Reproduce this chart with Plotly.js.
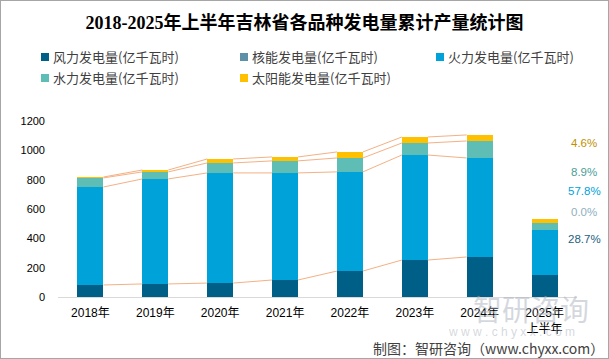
<!DOCTYPE html>
<html>
<head>
<meta charset="utf-8">
<script src="https://cdn.plot.ly/plotly-3.0.1.min.js"></script>
<style>
html,body{margin:0;padding:0;background:#fff;}
#chart{width:607px;height:357px;border:1px solid #A6A6A6;}
</style>
</head>
<body>
<div id="chart"></div>
<script>
// ---- data ----
const categories = ["2018年","2019年","2020年","2021年","2022年","2023年","2024年","2025年<br>上半年"];
const wind    = [82, 89, 95, 116, 177, 252, 273, 153];
const nuclear = [0, 0, 0, 0, 0, 0, 0, 0];
const thermal = [668, 716, 751, 730, 676, 716, 675, 307];
const hydro   = [62, 48, 68, 82, 95, 82, 116, 47];
const solar   = [6, 13, 27, 27, 41, 41, 41, 24.5];
const seriesNames = ["风力发电量(亿千瓦时)","核能发电量(亿千瓦时)","火力发电量(亿千瓦时)","水力发电量(亿千瓦时)","太阳能发电量(亿千瓦时)"];
const shareLabels = ["4.6%","8.9%","57.8%","0.0%","28.7%"];

const colors = ["#005F86","#5E91A8","#00A2DA","#5EBDB5","#FFC000"];
const shareColors = ["#BF9000","#4C9E98","#00A2DA","#8FAFC0","#1B5F80"];
const lineColor = "#F4B183";

const xIdx = categories.map((c,i)=>i);
const series = [wind, nuclear, thermal, hydro, solar];
const barW = 0.4;

const traces = series.map((s,k)=>({
  type:'bar', x:xIdx, y:s, name:seriesNames[k], width:barW,
  marker:{color:colors[k], line:{width:0}}, hoverinfo:'y+name', showlegend:false
}));

// connector lines between adjacent bars (2018-2024), at each cumulative level
let cum = xIdx.map(()=>0);
series.forEach((s,k)=>{
  cum = cum.map((v,i)=>v+s[i]);
  if (k===1) return; // nuclear level coincides with wind
  const lx=[], ly=[];
  for (let i=0;i<6;i++){
    lx.push(i+barW/2, i+1-barW/2, null);
    ly.push(cum[i], cum[i+1], null);
  }
  traces.push({type:'scatter', mode:'lines', x:lx, y:ly, line:{color:lineColor,width:1},
    hoverinfo:'skip', showlegend:false, connectgaps:false});
});

// pixel helpers (page coordinates -> paper)
const ML=57, MR=31, MT=120, MB=61, W=607, H=357;
const PW=W-ML-MR, PH=H-MT-MB;
const px = x => (x-1-ML)/PW;
const py = y => 1-(y-1-MT)/PH;

const shapes=[], annotations=[];
const legPos = [[41,57],[240,57],[436,57],[41,78],[240,78]];
seriesNames.forEach((n,k)=>{
  const [x,y]=legPos[k];
  shapes.push({type:'rect', xref:'paper', yref:'paper', x0:px(x), x1:px(x+8), y0:py(y+4), y1:py(y-4),
    fillcolor:colors[k], line:{width:0}});
  annotations.push({xref:'paper', yref:'paper', x:px(x+10), y:py(y), xanchor:'left', yanchor:'middle',
    text:n, showarrow:false, font:{size:13, color:'#404040', family:'"Noto Sans CJK SC", sans-serif'}});
});
const shareY=[143,172,191,212,239];
shareLabels.forEach((t,k)=>{
  annotations.push({xref:'paper', yref:'paper', x:px(584), y:py(shareY[k]), xanchor:'center', yanchor:'middle',
    text:t, showarrow:false, font:{size:11.5, color:shareColors[k], family:'"Liberation Sans", Arial, sans-serif'}});
});
// watermark
annotations.push({xref:'paper', yref:'paper', x:px(531), y:py(308), xanchor:'center', yanchor:'middle',
  text:'智研咨询', showarrow:false, font:{size:29, color:'rgba(170,178,190,0.5)', family:'"Noto Sans CJK SC", sans-serif'}});
annotations.push({xref:'paper', yref:'paper', x:px(511), y:py(332), xanchor:'center', yanchor:'middle',
  text:'w w w . c h y x x . c o m', showarrow:false, font:{size:12, color:'rgba(170,178,190,0.5)', family:'"Liberation Sans", sans-serif'}});
// footer
annotations.push({xref:'paper', yref:'paper', x:px(606), y:py(348), xanchor:'right', yanchor:'middle',
  text:'制图：智研咨询（www.chyxx.com）', showarrow:false, font:{size:14, color:'#404040', family:'"Noto Sans CJK SC", sans-serif'}});

const layout = {
  width:W, height:H, barmode:'stack', bargap:0,
  margin:{l:ML, r:MR, t:MT, b:MB, pad:0},
  paper_bgcolor:'#fff', plot_bgcolor:'#fff', showlegend:false,
  title:{text:'2018-2025年上半年吉林省各品种发电量累计产量统计图', x:0.5, xref:'container', xanchor:'center',
    y:1-22/H, yref:'container', yanchor:'middle',
    font:{size:18, color:'#000', family:'"Liberation Serif", "Noto Sans CJK SC", serif', weight:'bold'}},
  xaxis:{type:'linear', range:[-0.5,7.5], tickmode:'array', tickvals:xIdx, ticktext:categories,
    showgrid:false, zeroline:false, showline:true, linecolor:'#D9D9D9', linewidth:1, ticks:'',
    ticklabelstandoff:5, fixedrange:true,
    tickfont:{size:12, color:'#000', family:'"Liberation Sans", "Noto Sans CJK SC", sans-serif'}},
  yaxis:{range:[0,1200], tickmode:'array', tickvals:[0,200,400,600,800,1000,1200],
    showgrid:false, zeroline:false, showline:false, ticks:'', ticklabelstandoff:12, fixedrange:true,
    tickfont:{size:11, color:'#000', family:'"Liberation Sans", sans-serif'}},
  shapes, annotations
};
Plotly.newPlot('chart', traces, layout, {displayModeBar:false, staticPlot:true});
</script>
</body>
</html>
